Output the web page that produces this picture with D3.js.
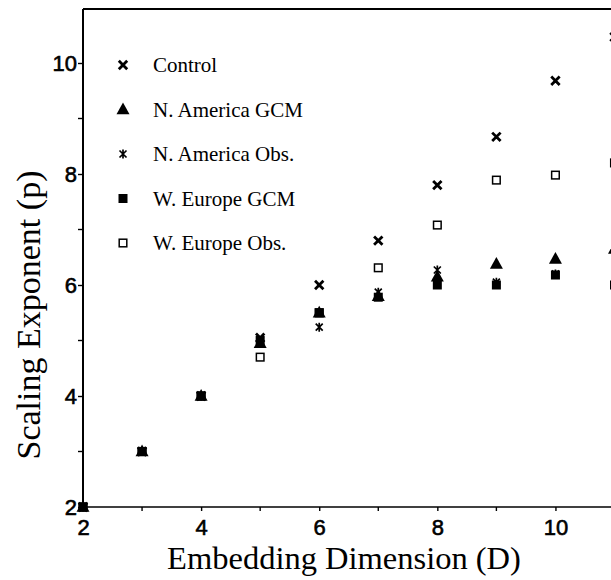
<!DOCTYPE html>
<html>

<head>
    <meta charset="UTF-8">
    <style>
        body { margin: 0; background: #fff; }
        svg { display: block; }
    </style>
</head>

<body>
    <svg></svg>
    <script src="https://d3js.org/d3.v7.min.js"></script>

    <script>

        let width = 611, height = 580;

        // values
        const dims = [2, 3, 4, 5, 6, 7, 8, 9, 10, 11];
        const control = [2, 3, 4, 5.05, 6.0, 6.8, 7.8, 8.67, 9.68, 10.47];
        const naGCM = [2, 3, 4, 4.95, 5.5, 5.8, 6.15, 6.38, 6.47, 6.65];
        const naObs = [2, 3, 4, 5.0, 5.24, 5.87, 6.27, 6.05, 6.2, 6.0];
        const weGCM = [2, 3, 4, 5.0, 5.5, 5.78, 6.0, 6.0, 6.18, 6.0];
        const weObs = [2, 3, 4, 4.7, 5.5, 6.31, 7.08, 7.89, 7.98, 8.2];

        const seriesNames = ["Control", "N. America GCM", "N. America Obs.", "W. Europe GCM", "W. Europe Obs."];
        const seriesValues = [control, naGCM, naObs, weGCM, weObs];
        const seriesShapes = ["cross", "triangle", "asterisk", "square", "openSquare"];

        const xTicks = [2, 4, 6, 8, 10];
        const yTicks = [2, 4, 6, 8, 10];
        const minorTicks = [3, 5, 7, 9];

        let svg = d3.select("svg")
            .attr("width", width)
            .attr("height", height)
            .attr("viewBox", "0 0 " + width + " " + height);

        let x = d3.scaleLinear().domain([2, 11]).range([83, 614.5]);
        let y = d3.scaleLinear().domain([2, 11]).range([507, 7.5]);

        // marker drawing
        function drawMarker(g, shape) {
            if (shape == "cross") {
                g.append("path")
                    .attr("d", "M-4.2,-4.2L4.2,4.2M-4.2,4.2L4.2,-4.2")
                    .attr("stroke", "#000").attr("stroke-width", 2.8).attr("fill", "none");
            } else if (shape == "asterisk") {
                g.append("path")
                    .attr("d", "M-3.5,-3.5L3.5,3.5M-3.5,3.5L3.5,-3.5M0,-4.5L0,4.5")
                    .attr("stroke", "#000").attr("stroke-width", 1.7).attr("fill", "none");
            } else if (shape == "triangle") {
                g.append("path")
                    .attr("d", "M0,-7L6.5,4.8L-6.5,4.8Z")
                    .attr("fill", "#000");
            } else if (shape == "square") {
                g.append("rect")
                    .attr("x", -4.5).attr("y", -4.5).attr("width", 9).attr("height", 9)
                    .attr("fill", "#000");
            } else {
                g.append("rect")
                    .attr("x", -3.8).attr("y", -3.8).attr("width", 7.6).attr("height", 7.6)
                    .attr("fill", "#fff").attr("stroke", "#000").attr("stroke-width", 1.5);
            }
        }

        // frame
        svg.append("line")
            .attr("x1", x(2)).attr("x2", width)
            .attr("y1", y(11) + 1.5).attr("y2", y(11) + 1.5)
            .attr("stroke", "#000").attr("stroke-width", 2.2);

        let xAxis = svg.append("g")
            .attr("transform", "translate(0," + y(2) + ")")
            .call(d3.axisBottom(x).tickValues(xTicks).tickSize(4).tickPadding(8).tickFormat(d3.format("d")));
        xAxis.select(".domain").attr("stroke-width", 1.6).attr("d", "M" + x(2) + ",0H" + width);

        let yAxis = svg.append("g")
            .attr("transform", "translate(" + x(2) + ",0)")
            .call(d3.axisLeft(y).tickValues(yTicks).tickSize(5).tickPadding(1).tickFormat(d3.format("d")));
        yAxis.select(".domain").attr("stroke-width", 2).attr("d", "M0," + (y(11) + 1.5) + "V" + y(2));

        svg.selectAll(".tick text")
            .attr("font-family", "Liberation Sans, Arial, sans-serif")
            .attr("font-size", 22)
            .attr("fill", "#000")
            .attr("stroke", "#000")
            .attr("stroke-width", 0.6);
        svg.selectAll(".tick line").attr("stroke-width", 1.4);

        // minor ticks
        svg.append("g").selectAll("line")
            .data(minorTicks).enter().append("line")
            .attr("x1", d => x(d)).attr("x2", d => x(d))
            .attr("y1", y(2)).attr("y2", y(2) + 4)
            .attr("stroke", "#000").attr("stroke-width", 1.4);
        svg.append("g").selectAll("line")
            .data(minorTicks).enter().append("line")
            .attr("x1", x(2) - 5).attr("x2", x(2))
            .attr("y1", d => y(d)).attr("y2", d => y(d))
            .attr("stroke", "#000").attr("stroke-width", 1.4);

        // axis titles
        svg.append("text")
            .attr("x", 344).attr("y", 569)
            .attr("text-anchor", "middle")
            .attr("font-family", "Liberation Serif, Times New Roman, serif")
            .attr("font-size", 32.5)
            .text("Embedding Dimension (D)");

        svg.append("text")
            .attr("transform", "translate(40,315) rotate(-90)")
            .attr("text-anchor", "middle")
            .attr("font-family", "Liberation Serif, Times New Roman, serif")
            .attr("font-size", 34)
            .text("Scaling Exponent (p)");

        // data points
        let plot = svg.append("g");
        let drawOrder = [0, 4, 2, 3, 1];
        drawOrder.forEach(i => {
            dims.forEach((d, j) => {
                let g = plot.append("g")
                    .attr("transform", "translate(" + x(d) + "," + y(seriesValues[i][j]) + ")");
                drawMarker(g, seriesShapes[i]);
            });
        });

        // legend
        let legend = svg.append("g");
        seriesNames.forEach((name, i) => {
            let row = legend.append("g")
                .attr("transform", "translate(123," + (65 + i * 44.5) + ")");
            drawMarker(row, seriesShapes[i]);
            row.append("text")
                .attr("x", 30).attr("y", 7)
                .attr("font-family", "Liberation Serif, Times New Roman, serif")
                .attr("font-size", 21)
                .text(name);
        });

    </script>
</body>

</html>
